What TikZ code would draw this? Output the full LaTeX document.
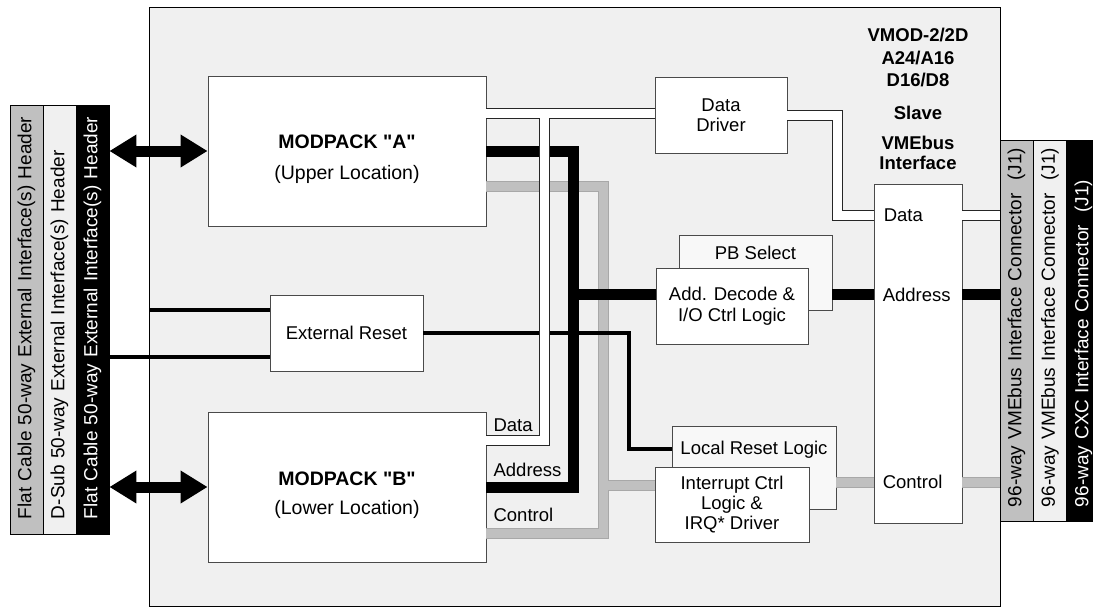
\documentclass[tikz,border=0pt]{standalone}
\usepackage{fontspec}
\setmainfont{Liberation Sans}[Ligatures=TeXOff]
\usetikzlibrary{arrows.meta}
\definecolor{board}{HTML}{F0F0F0}
\definecolor{ctrlgray}{HTML}{C0C0C0}
\definecolor{ctrledge}{HTML}{A8A8A8}
\definecolor{boxline}{HTML}{4A4A4A}
\definecolor{offwhite}{HTML}{F8F8F8}

\begin{document}
\begin{tikzpicture}[x=1pt, y=-1pt, font=\fontsize{18.5}{20.5}\selectfont,
  blk/.style={draw=boxline, fill=white, line width=0.8pt, inner sep=0pt, align=center},
  lstrip/.style={rotate=90, draw=black, line width=0.8pt, align=left,
    minimum width=429pt, minimum height=33pt, inner xsep=15pt, inner ysep=0pt,
    text width=399pt, font=\fontsize{19}{21}\selectfont},
  rstrip/.style={lstrip, minimum width=381pt, inner xsep=14pt, text width=353pt},
  lbl/.style={inner sep=0pt, anchor=base west},
  databus/.style={draw=white, line width=9pt, preaction={draw=black!85, line width=11pt}},
  addrbus/.style={draw=black, line width=11pt},
  ctrlbus/.style={draw=ctrlgray, line width=9pt, preaction={draw=ctrledge, line width=11pt}},
  rstline/.style={draw=black, line width=3.3pt},
  extarrow/.style={line width=11pt,
    {Triangle[length=27pt,width=31pt]}-{Triangle[length=27pt,width=31pt]}}]
  \fill[white] (0,0) rectangle (1093,608);
  \useasboundingbox (0,0) rectangle (1093,608);
  % board
  \draw[fill=board, line width=1pt] (149,7) rectangle (1000,606);
  % external headers (left)
  \node[lstrip, fill=ctrlgray] (lc1) at (26.5,319.5) {\mbox{Flat Cable 50-way External Interface(s) Header}};
  \node[lstrip, fill=board] (lc2) at (59.5,319.5) {\mbox{D-Sub 50-way External Interface(s) Header}};
  \node[lstrip, fill=black, text=white] (lc3) at (92.5,319.5) {\mbox{Flat Cable 50-way External Interface(s) Header}};
  % VMEbus connectors (right)
  \node[rstrip, fill=ctrlgray] (rc1) at (1016.5,330.5) {\mbox{96-way VMEbus Interface Connector~~(J1)}};
  \node[rstrip, fill=board] (rc2) at (1050,330.5) {\mbox{96-way VMEbus Interface Connector~~(J1)}};
  \node[rstrip, fill=black, text=white] (rc3) at (1083.5,330.5) {\mbox{96-way CXC Interface Connector~~(J1)}};
  % title
  \node[inner sep=0pt, anchor=north, align=center, font=\bfseries\fontsize{18.5}{22.5}\selectfont]
    (title) at (918,28) {VMOD-2/2D\\A24/A16\\D16/D8\\[10.5pt]Slave\\[7.5pt]VMEbus\\[-2.5pt]Interface};
  % blocks
  \node[blk, font=\fontsize{19.5}{23}\selectfont, minimum width=278pt, minimum height=150pt]
    (modA) at (347,151) {\rule{0pt}{29.6pt}\textbf{MODPACK "A"}\\[8.5pt](Upper Location)};
  \node[blk, font=\fontsize{19.5}{23}\selectfont, minimum width=278pt, minimum height=150pt]
    (modB) at (347,487) {\rule{0pt}{29.6pt}\textbf{MODPACK "B"}\\[5.5pt](Lower Location)};
  \node[blk, font=\fontsize{18.5}{20}\selectfont, minimum width=132pt, minimum height=76pt]
    (drv) at (721,115) {Data\\Driver};
  \node[blk, minimum width=153pt, minimum height=76pt] (extrst) at (346.5,333) {External Reset};
  \node[blk, fill=offwhite, minimum width=153pt, minimum height=75pt] (pbsel) at (755.5,272.5) {};
  \node[inner sep=0pt, anchor=north] (pbselT) at ([yshift=-11.3pt]pbsel.north) {PB Select};
  \node[blk, font=\fontsize{18.5}{21}\selectfont, minimum width=152pt, minimum height=76pt]
    (dec) at (732,306) {Add. Decode \&\\I/O Ctrl Logic};
  \node[blk, fill=offwhite, minimum width=164pt, minimum height=83pt] (lrst) at (754,467.5) {};
  \node[inner sep=0pt, anchor=north] (lrstT) at ([yshift=-15.3pt]lrst.north) {Local Reset Logic};
  \node[blk, font=\fontsize{18.5}{20}\selectfont, minimum width=154pt, minimum height=75pt]
    (irq) at (732,504.5) {Interrupt Ctrl\\Logic \&\\IRQ* Driver};
  \node[blk, minimum width=88pt, minimum height=339pt] (vme) at (918,353.5) {};
  % bus corners
  \coordinate (dT) at (544,113.5);
  \coordinate (dB) at (544,440.5);
  \coordinate (dR) at (837,115);
  \coordinate (dV) at (837,215);
  \coordinate (aT) at (573.5,151);
  \coordinate (aM) at (573.5,294.5);
  \coordinate (aB) at (573.5,487);
  \coordinate (cT) at (603.5,186.5);
  \coordinate (cM) at (603.5,485);
  \coordinate (cB) at (603.5,533);
  \coordinate (cR) at (855,482);
  \coordinate (rK) at (629,449);
  \coordinate (rstA) at (149,310);
  \coordinate (rstB) at (200,357);
  % control bus
  \draw[ctrlbus] (modA.east |- cT) -- (cT) -- (cB) -- (modB.east |- cB)
    (cM) -- (irq.west |- cM)
    (lrst.east |- cR) -- (vme.west |- cR)
    (vme.east |- cR) -- (rc1.north |- cR);
  % reset lines
  \draw[rstline] (rstA) -- (extrst.west |- rstA);
  \draw[rstline] (lc3.south |- rstB) -- (extrst.west |- rstB);
  \draw[rstline] (extrst.east) -| (rK) -- (lrst.west |- rK);
  % address bus
  \draw[addrbus] (modA.east) -- (aT) -- (aB) -- (modB.east)
    (aM) -- (dec.west |- aM)
    (pbsel.east |- aM) -- (vme.west |- aM)
    (vme.east |- aM) -- (rc1.north |- aM);
  % data bus
  \draw[databus] (modA.east |- dT) -- (drv.west |- dT)
    (dT) -- (dB) -- (modB.east |- dB)
    (drv.east |- dR) -- (dR) -- (dV) -- (vme.west |- dV)
    (vme.east |- dV) -- (rc1.north |- dV);
  % external interfaces
  \draw[extarrow] (lc3.south |- modA.west) -- (modA.west);
  \draw[extarrow] (lc3.south |- modB.west) -- (modB.west);
  % bus labels
  \node[lbl, xshift=7pt, yshift=9pt] (bData) at (modB.east |- dB) {Data};
  \node[lbl, xshift=7pt, yshift=10.3pt] (bAddr) at (modB.east |- aB) {Address};
  \node[lbl, xshift=7pt, yshift=11.3pt] (bCtrl) at (modB.east |- cB) {Control};
  \node[lbl, anchor=west, xshift=10pt] (vData) at (vme.west |- dV) {Data};
  \node[lbl, anchor=west, xshift=9pt] (vAddr) at (vme.west |- aM) {Address};
  \node[lbl, anchor=west, xshift=9pt] (vCtrl) at (vme.west |- cR) {Control};
\end{tikzpicture}
\end{document}
